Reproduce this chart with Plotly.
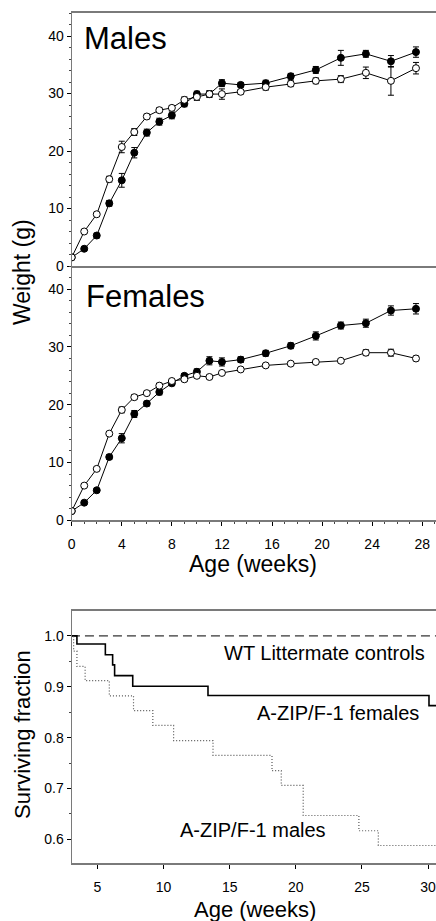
import plotly.graph_objects as go

W, H = 436, 921

# ---------------- data ----------------
weeks = [0, 1, 2, 3, 4, 5, 6, 7, 8, 9, 10, 11, 12, 13.5, 15.5, 17.5, 19.5, 21.5, 23.5, 25.5, 27.5]

males_wt = [1.5, 6.0, 9.0, 15.1, 20.7, 23.3, 26.0, 27.1, 27.5, 28.9, 29.4, 29.9, 29.9, 30.3, 31.1, 31.7, 32.2, 32.5, 33.6, 32.2, 34.4]
males_wt_err = [0, 0.3, 0.3, 0.5, 1.0, 0.6, 0.4, 0.4, 0.4, 0.5, 0.6, 0.6, 0.9, 0.4, 0.5, 0.5, 0.5, 0.6, 1.0, 2.5, 1.0]
males_az = [1.5, 3.0, 5.3, 10.9, 14.9, 19.7, 23.2, 25.1, 26.2, 28.2, 29.9, 29.9, 31.8, 31.5, 31.8, 33.0, 34.1, 36.2, 36.9, 35.6, 37.2]
males_az_err = [0, 0.3, 0.4, 0.5, 1.2, 0.9, 0.6, 0.6, 0.6, 0.5, 0.5, 0.5, 0.6, 0.4, 0.5, 0.5, 0.6, 1.3, 0.6, 1.0, 0.9]

females_wt = [1.6, 6.0, 8.9, 15.0, 19.1, 21.3, 22.0, 23.3, 24.1, 24.4, 25.0, 24.8, 25.5, 26.1, 26.8, 27.1, 27.4, 27.6, 29.0, 29.0, 28.0]
females_wt_err = [0, 0.3, 0.3, 0.3, 0.5, 0.4, 0.3, 0.4, 0.3, 0.4, 0.3, 0.3, 0.3, 0.3, 0.3, 0.3, 0.3, 0.3, 0.5, 0.6, 0.4]
females_az = [1.6, 3.05, 5.2, 10.95, 14.2, 18.4, 20.2, 22.2, 23.7, 25.0, 25.7, 27.6, 27.4, 27.8, 28.9, 30.2, 31.9, 33.7, 34.1, 36.3, 36.6]
females_az_err = [0, 0.3, 0.3, 0.4, 0.8, 0.6, 0.4, 0.5, 0.4, 0.4, 0.5, 0.7, 0.7, 0.5, 0.5, 0.5, 0.7, 0.6, 0.7, 0.8, 0.9]

surv_f_x = [3.0, 3.45, 5.6, 6.15, 6.3, 7.67, 13.36, 30.07, 30.6]
surv_f_y = [1.0, 0.984, 0.963, 0.943, 0.922, 0.901, 0.883, 0.863, 0.863]

surv_m_x = [3.0, 3.2, 3.45, 4.07, 5.9, 7.73, 9.19, 10.76, 13.74, 18.2, 18.9, 20.56, 24.77, 26.24, 30.6]
surv_m_y = [1.0, 0.97, 0.94, 0.912, 0.882, 0.853, 0.824, 0.794, 0.765, 0.735, 0.706, 0.647, 0.617, 0.588, 0.588]

surv_wt_x = [3.0, 30.6]
surv_wt_y = [1.0, 1.0]

weight_ticks = [0, 10, 20, 30, 40]
age_ticks = [0, 4, 8, 12, 16, 20, 24, 28]
surv_xticks = [5, 10, 15, 20, 25, 30]
surv_yticks = [0.6, 0.7, 0.8, 0.9, 1.0]

# ---------------- helpers ----------------
FONT = "Liberation Sans"
AX = "#7a7a7a"


def px_x(p):
    return p / W


def px_y(p):
    return 1 - p / H


fig = go.Figure()


def add_weight(xa, ya, y_open, e_open, y_fill, e_fill):
    fig.add_trace(go.Scatter(
        x=weeks, y=y_fill, xaxis=xa, yaxis=ya, mode="lines+markers",
        line=dict(color="black", width=1),
        marker=dict(symbol="circle", size=7, color="black", line=dict(color="black", width=1)),
        error_y=dict(type="data", array=e_fill, color="black", thickness=1, width=3),
        showlegend=False))
    fig.add_trace(go.Scatter(
        x=weeks, y=y_open, xaxis=xa, yaxis=ya, mode="lines+markers",
        line=dict(color="black", width=1),
        marker=dict(symbol="circle", size=7, color="white", line=dict(color="black", width=1)),
        error_y=dict(type="data", array=e_open, color="black", thickness=1, width=3),
        showlegend=False))


add_weight("x", "y", males_wt, males_wt_err, males_az, males_az_err)
add_weight("x2", "y2", females_wt, females_wt_err, females_az, females_az_err)

fig.add_trace(go.Scatter(x=surv_wt_x, y=surv_wt_y, xaxis="x3", yaxis="y3", mode="lines",
                         line=dict(color="black", width=1, dash="9px,5px"), showlegend=False))
fig.add_trace(go.Scatter(x=surv_f_x, y=surv_f_y, xaxis="x3", yaxis="y3", mode="lines",
                         line=dict(color="black", width=1.6, shape="hv"), showlegend=False))
fig.add_trace(go.Scatter(x=surv_m_x, y=surv_m_y, xaxis="x3", yaxis="y3", mode="lines",
                         line=dict(color="#555555", width=1.2, dash="1px,2px", shape="hv"),
                         showlegend=False))

tickfont = dict(family=FONT, size=14, color="black")
xdom = [px_x(71.7), 1]
xdom3 = [px_x(70.7), 1]

common_y = dict(showline=True, linecolor=AX, linewidth=1.2, ticks="outside", ticklen=4,
                tickcolor="black", tickfont=tickfont, showgrid=False, zeroline=False,
                automargin=False)

fig.update_layout(
    width=W, height=H,
    margin=dict(l=0, r=0, t=0, b=0),
    paper_bgcolor="white", plot_bgcolor="white",
    font=dict(family=FONT, color="black"),
    xaxis=dict(domain=xdom, range=[0, 29.1], anchor="y", showticklabels=False, ticks="",
               showline=True, linecolor=AX, linewidth=1.5, mirror=True, showgrid=False,
               zeroline=False, automargin=False),
    yaxis=dict(domain=[px_y(266), px_y(13)], range=[0, 44], tickvals=weight_ticks,
               minor=dict(dtick=2, ticks="outside", ticklen=2, tickcolor="#444"),
               **common_y),
    xaxis2=dict(domain=xdom, range=[0, 29.1], anchor="y2", tickvals=age_ticks,
                showline=True, linecolor=AX, linewidth=1.5, ticks="outside", ticklen=4,
                tickcolor="black", tickfont=tickfont, ticklabelstandoff=6,
                ticklabeloverflow="allow",
                minor=dict(dtick=1, ticks="outside", ticklen=2, tickcolor="#444"),
                showgrid=False, zeroline=False, automargin=False),
    yaxis2=dict(domain=[px_y(520.3), px_y(266)], range=[0, 44], tickvals=weight_ticks,
                minor=dict(dtick=2, ticks="outside", ticklen=2, tickcolor="#444"),
                **common_y),
    xaxis3=dict(domain=xdom3, range=[2.98, 30.6], anchor="y3", tickvals=surv_xticks,
                showline=True, linecolor=AX, linewidth=1.5, mirror=True, ticks="outside",
                ticklen=4, tickcolor="black", tickfont=tickfont, ticklabelstandoff=6,
                ticklabeloverflow="allow",
                showgrid=False, zeroline=False, automargin=False),
    yaxis3=dict(domain=[px_y(863.3), px_y(611)], range=[0.553, 1.049], tickvals=surv_yticks,
                tickformat=".1f", mirror=True,
                minor=dict(dtick=0.05, ticks="outside", ticklen=2, tickcolor="#444"),
                **common_y),
)

ann = []


def text(t, x, y, size, xanchor="center", angle=0):
    ann.append(dict(text=t, x=px_x(x), y=px_y(y), xref="paper", yref="paper",
                    xanchor=xanchor, yanchor="middle", showarrow=False, textangle=angle,
                    font=dict(family=FONT, size=size, color="black")))


text("Males", 82, 38, 31, xanchor="left")
text("Females", 84, 297, 31, xanchor="left")
text("Weight (g)", 22, 272, 23, angle=-90)
text("Age (weeks)", 253, 564, 23)
text("Surviving fraction", 22, 735, 22, angle=-90)
text("Age (weeks)", 255, 909, 22)
text("WT Littermate controls", 427, 653, 20, xanchor="right")
text("A-ZIP/F-1 females", 421, 713, 20, xanchor="right")
text("A-ZIP/F-1 males", 178, 830, 20, xanchor="left")

fig.update_layout(annotations=ann)

fig.write_html(
    "out.html",
    config={"displayModeBar": False},
    post_script="document.body.style.margin='0';document.body.style.overflow='hidden';",
)
